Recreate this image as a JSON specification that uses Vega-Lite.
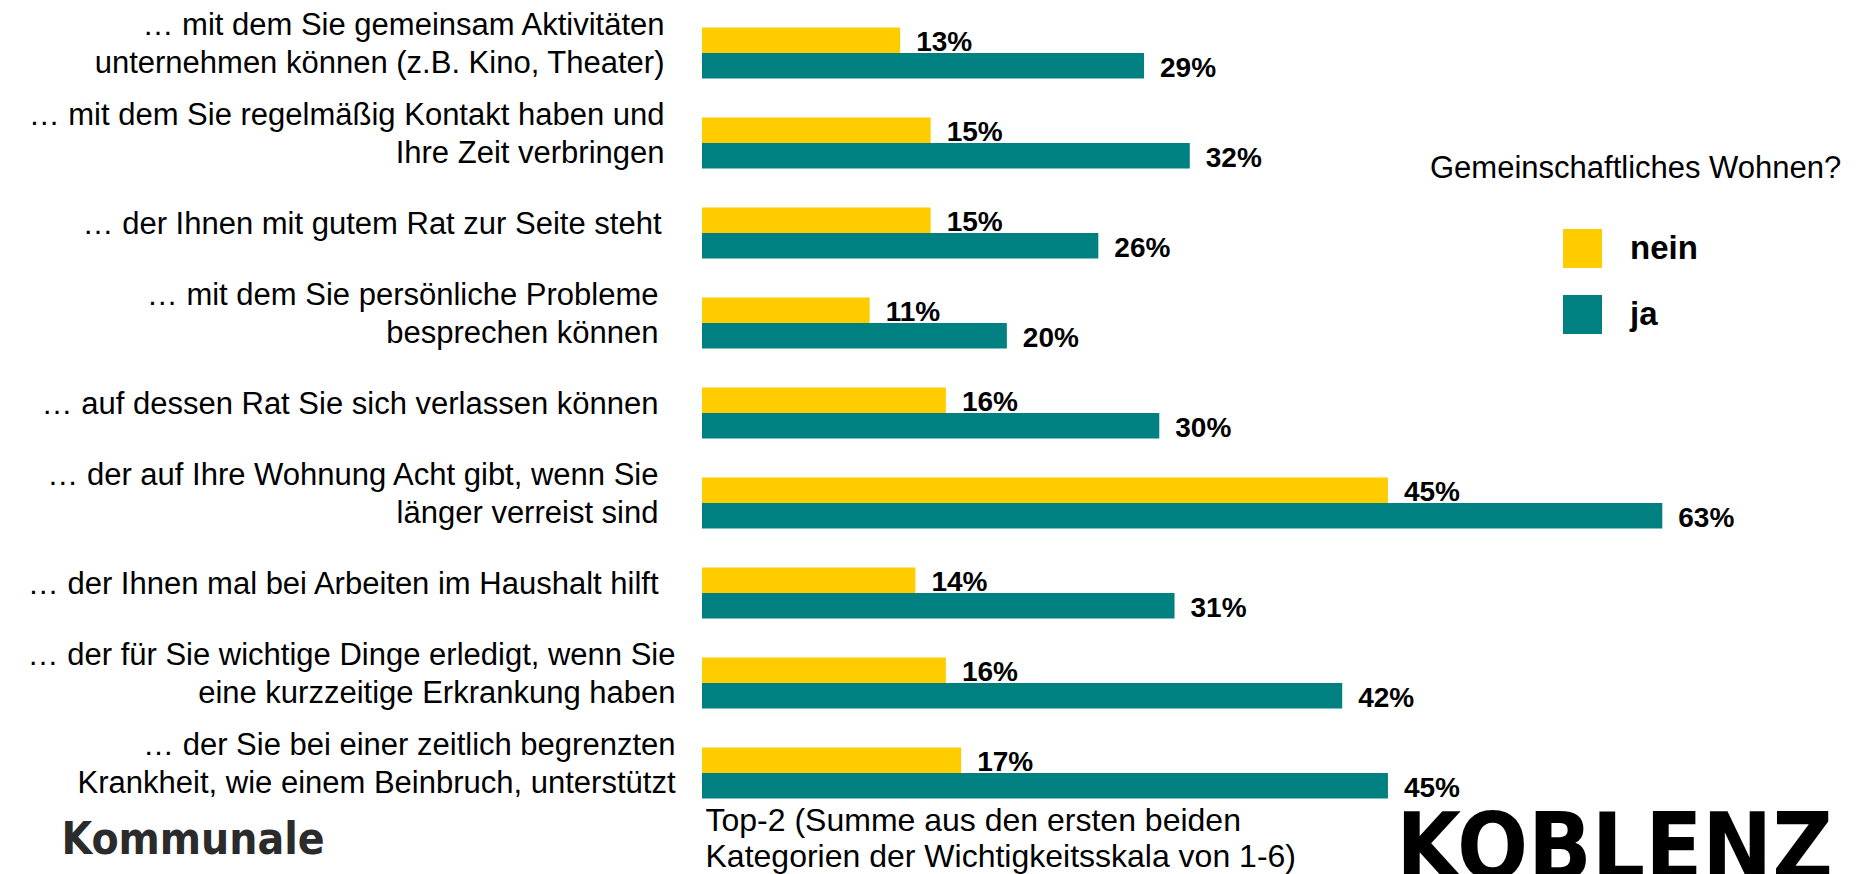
{
  "$schema": "https://vega.github.io/schema/vega-lite/v6.json",
  "width": 1067,
  "height": 810,
  "autosize": {"type": "none"},
  "padding": {"left": 702, "top": 8, "right": 97, "bottom": 56},
  "background": "white",
  "config": {"view": {"stroke": null}, "font": "Liberation Sans, Arial, sans-serif"},
  "title": {
    "text": "KOBLENZ",
    "orient": "bottom",
    "anchor": "end",
    "frame": "group",
    "fontSize": 93,
    "font": "DejaVu Sans Condensed, Liberation Sans",
    "fontWeight": "bold",
    "color": "black",
    "baseline": "alphabetic",
    "dx": 64,
    "dy": 7,
    "offset": 0
  },
  "data": {
    "values": [
      {"item": "… mit dem Sie gemeinsam Aktivitäten|unternehmen können (z.B. Kino, Theater)", "group": "nein", "value": 0.13},
      {"item": "… mit dem Sie gemeinsam Aktivitäten|unternehmen können (z.B. Kino, Theater)", "group": "ja", "value": 0.29},
      {"item": "… mit dem Sie regelmäßig Kontakt haben und|Ihre Zeit verbringen", "group": "nein", "value": 0.15},
      {"item": "… mit dem Sie regelmäßig Kontakt haben und|Ihre Zeit verbringen", "group": "ja", "value": 0.32},
      {"item": "… der Ihnen mit gutem Rat zur Seite steht", "group": "nein", "value": 0.15},
      {"item": "… der Ihnen mit gutem Rat zur Seite steht", "group": "ja", "value": 0.26},
      {"item": "… mit dem Sie persönliche Probleme|besprechen können", "group": "nein", "value": 0.11},
      {"item": "… mit dem Sie persönliche Probleme|besprechen können", "group": "ja", "value": 0.20},
      {"item": "… auf dessen Rat Sie sich verlassen können", "group": "nein", "value": 0.16},
      {"item": "… auf dessen Rat Sie sich verlassen können", "group": "ja", "value": 0.30},
      {"item": "… der auf Ihre Wohnung Acht gibt, wenn Sie|länger verreist sind", "group": "nein", "value": 0.45},
      {"item": "… der auf Ihre Wohnung Acht gibt, wenn Sie|länger verreist sind", "group": "ja", "value": 0.63},
      {"item": "… der Ihnen mal bei Arbeiten im Haushalt hilft", "group": "nein", "value": 0.14},
      {"item": "… der Ihnen mal bei Arbeiten im Haushalt hilft", "group": "ja", "value": 0.31},
      {"item": "… der für Sie wichtige Dinge erledigt, wenn Sie|eine kurzzeitige Erkrankung haben", "group": "nein", "value": 0.16},
      {"item": "… der für Sie wichtige Dinge erledigt, wenn Sie|eine kurzzeitige Erkrankung haben", "group": "ja", "value": 0.42},
      {"item": "… der Sie bei einer zeitlich begrenzten|Krankheit, wie einem Beinbruch, unterstützt", "group": "nein", "value": 0.17},
      {"item": "… der Sie bei einer zeitlich begrenzten|Krankheit, wie einem Beinbruch, unterstützt", "group": "ja", "value": 0.45}
    ]
  },
  "encoding": {
    "y": {
      "field": "item",
      "type": "nominal",
      "sort": null,
      "scale": {"paddingInner": 0.433, "paddingOuter": 0.2165},
      "axis": {
        "title": "Kommunale",
        "titleAngle": 0,
        "titleX": -641,
        "titleY": 845,
        "titleAlign": "left",
        "titleBaseline": "alphabetic",
        "titleFontSize": 44,
        "titleFont": "DejaVu Sans Condensed, Liberation Sans",
        "titleFontWeight": "bold",
        "titleColor": "#2b2b2b",
        "domain": false,
        "ticks": false,
        "grid": false,
        "labelFontSize": 31,
        "labelColor": "black",
        "labelLimit": 800,
        "labelLineHeight": 38,
        "labelOffset": {
          "condition": {"test": "indexof(datum.value, '|') >= 0", "value": -27},
          "value": -8
        },
        "labelAlign": "right",
        "labelBaseline": "middle",
        "labelExpr": "split(datum.label, '|')",
        "labelPadding": {
          "condition": [
            {"test": "indexof(datum.value, 'Beinbruch') >= 0 || indexof(datum.value, 'kurzzeitige') >= 0", "value": 27},
            {"test": "indexof(datum.value, 'Kino') >= 0 || indexof(datum.value, 'Kontakt') >= 0", "value": 38},
            {"test": "indexof(datum.value, 'gutem Rat') >= 0", "value": 41}
          ],
          "value": 44
        }
      }
    },
    "yOffset": {"field": "group", "type": "nominal", "sort": ["nein", "ja"]},
    "x": {
      "field": "value",
      "type": "quantitative",
      "scale": {"domain": [0, 0.7]},
      "axis": {
        "title": ["Top-2 (Summe aus den ersten beiden", "Kategorien der Wichtigkeitsskala von 1-6)"],
        "titleX": 3,
        "titleY": 12,
        "titleAlign": "left",
        "titleAnchor": "start",
        "titleBaseline": "alphabetic",
        "titleFontSize": 32,
        "titleFontWeight": "normal",
        "titleColor": "black",
        "titleLineHeight": 36,
        "labels": false,
        "ticks": false,
        "domain": false,
        "grid": false
      }
    }
  },
  "layer": [
    {
      "mark": {"type": "bar"},
      "encoding": {
        "color": {
          "field": "group",
          "type": "nominal",
          "scale": {"domain": ["nein", "ja"], "range": ["#FFCC00", "#008080"]},
          "legend": {
            "orient": "none",
            "legendX": 728,
            "legendY": 146,
            "title": "Gemeinschaftliches Wohnen?",
            "titleFontSize": 31,
            "titleFontWeight": "normal",
            "titleColor": "black",
            "titleLimit": 1000,
            "titlePadding": 44,
            "symbolType": "square",
            "symbolSize": 1521,
            "symbolStrokeWidth": 0,
            "symbolOpacity": 1,
            "symbolOffset": 133,
            "labelOffset": 28,
            "labelFontSize": 33,
            "labelFontWeight": "bold",
            "labelColor": "black",
            "labelLimit": 300,
            "rowPadding": 27
          }
        }
      }
    },
    {
      "mark": {"type": "text", "align": "left", "baseline": "alphabetic", "dx": 16, "dy": 11, "fontSize": 28, "fontWeight": "bold", "color": "black"},
      "encoding": {"text": {"field": "value", "type": "quantitative", "format": ".0%"}}
    }
  ]
}
